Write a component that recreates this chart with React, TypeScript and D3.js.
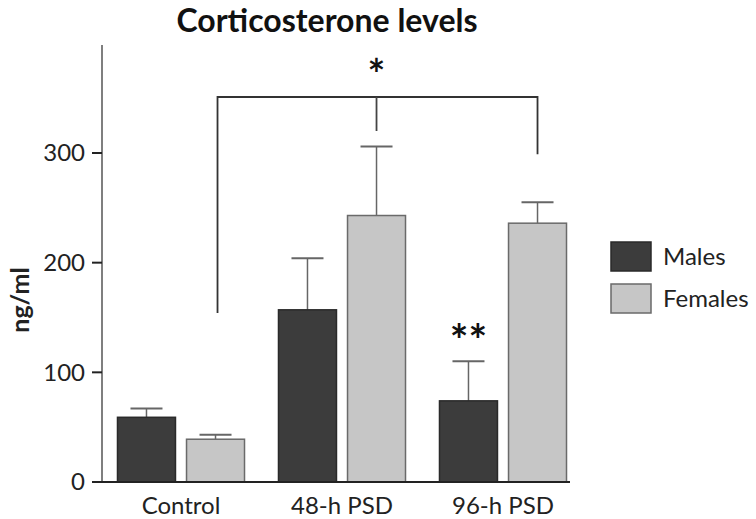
import React from "react";
import * as d3 from "d3";

// values (ng/ml)
const groups = ["Control", "48-h PSD", "96-h PSD"];
const sexes = ["Males", "Females"];
const means = {
    Males: [59, 157, 74],
    Females: [39, 243, 236],
};
const errs = {
    Males: [67, 204, 110],
    Females: [43, 306, 255],
};
const yTicks = [0, 100, 200, 300];

const W = 756;
const H = 519;
const FONT = "Lato, 'Open Sans', sans-serif";

const fills: Record<string, string> = { Males: "#3c3c3c", Females: "#c6c6c6" };
const strokes: Record<string, string> = { Males: "#2a2a2a", Females: "#6a6a6a" };

export default function App() {
    const y = d3.scaleLinear().domain([0, 300]).range([482, 153]);
    const x0 = d3.scaleBand<string>().domain(groups).range([100.5, 583.5]).paddingInner(0.211).paddingOuter(0.1055);
    const x1 = d3.scaleBand<string>().domain(sexes).range([0, x0.bandwidth()]).paddingInner(0.16);
    const axisX = 102;
    const cx = (g: string, s: string) => (x0(g) as number) + (x1(s) as number) + x1.bandwidth() / 2;

    // significance bracket
    const bracketY = 97;
    const leftX = cx("Control", "Females") + 2;
    const midX = cx("48-h PSD", "Females");
    const rightX = cx("96-h PSD", "Females");

    return (
        <svg width={W} height={H} style={{ position: "absolute", left: 0, top: 0, background: "#fff" }}>
            <text x={327} y={32} textAnchor="middle" fontFamily={FONT} fontWeight="bold" fontSize={32} fill="#111">
                Corticosterone levels
            </text>

            {/* y axis */}
            <line x1={axisX} x2={axisX} y1={45} y2={482} stroke="#555" strokeWidth={1.5} />
            {yTicks.map(t => (
                <g key={t}>
                    <line x1={92} x2={axisX} y1={y(t)} y2={y(t)} stroke="#222" strokeWidth={2} />
                    <text x={85} y={y(t)} dy="0.35em" textAnchor="end" fontFamily={FONT} fontSize={24} fill="#222">{t}</text>
                </g>
            ))}
            <text transform={`translate(29,300) rotate(-90)`} textAnchor="middle" fontFamily={FONT} fontWeight="bold" fontSize={25} fill="#222">ng/ml</text>

            {/* bars + error bars */}
            {groups.map((g, i) => sexes.map(s => {
                const v = means[s as keyof typeof means][i];
                const e = errs[s as keyof typeof errs][i];
                const bx = (x0(g) as number) + (x1(s) as number);
                const c = cx(g, s);
                return (
                    <g key={g + s}>
                        <line x1={c} x2={c} y1={y(v)} y2={y(e)} stroke="#666" strokeWidth={1.5} />
                        <line x1={c - 16} x2={c + 16} y1={y(e)} y2={y(e)} stroke="#666" strokeWidth={2} />
                        <rect x={bx} y={y(v)} width={x1.bandwidth()} height={y(0) - y(v)} fill={fills[s]} stroke={strokes[s]} strokeWidth={1.5} />
                    </g>
                );
            }))}

            {/* baseline */}
            <line x1={axisX} x2={570} y1={482} y2={482} stroke="#222" strokeWidth={2} />

            {groups.map(g => (
                <text key={g} x={(x0(g) as number) + x0.bandwidth() / 2} y={514} textAnchor="middle" fontFamily={FONT} fontSize={24} fill="#222">{g}</text>
            ))}

            {/* bracket */}
            <path d={`M${leftX},${y(154)} V${bracketY} H${rightX} V${y(307) + 9}`} fill="none" stroke="#333" strokeWidth={1.8} />
            <line x1={midX} x2={midX} y1={bracketY} y2={131} stroke="#444" strokeWidth={1.8} />
            <text x={midX} y={90} textAnchor="middle" fontFamily={FONT} fontWeight="bold" fontSize={42} fill="#111">*</text>
            <text x={cx("96-h PSD", "Males")} y={356} textAnchor="middle" fontFamily={FONT} fontWeight="bold" fontSize={44} fill="#111">**</text>

            {/* legend */}
            {sexes.map((s, i) => (
                <g key={s} transform={`translate(611,${242 + i * 42})`}>
                    <rect width={40} height={29} fill={fills[s]} stroke={strokes[s]} strokeWidth={1.5} />
                    <text x={52} y={15} dy="0.35em" fontFamily={FONT} fontSize={24} fill="#222">{s}</text>
                </g>
            ))}
        </svg>
    );
}
